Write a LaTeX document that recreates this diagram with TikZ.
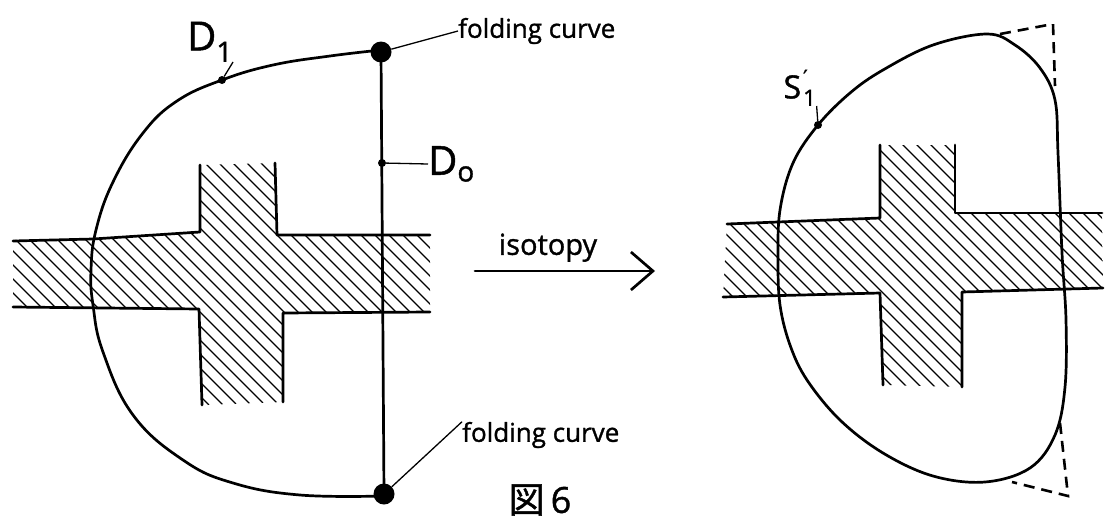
\documentclass[tikz,border=0pt]{standalone}
\usepackage{fontspec}
\setmainfont{Open Sans}[FakeBold=1.2]
\newfontfamily\cjk{Noto Sans CJK JP}[FakeBold=1.2]
\newfontfamily\djv{DejaVu Sans}[FakeBold=1.5]
\usetikzlibrary{arrows.meta}
\tikzset{
  stroke/.style={line width=2.7pt, line join=round, line cap=round},
  leader/.style={line width=1.3pt},
  hatchline/.style={line width=1.1pt},
  bigdot/.style={circle, fill, inner sep=0pt, minimum size=21pt},
  smalldot/.style={circle, fill, inner sep=0pt, minimum size=8pt},
  lbl/.style={font=\fontsize{26}{30}\selectfont, inner sep=0pt},
  biglbl/.style={font=\fontsize{40}{42}\selectfont, inner sep=0pt},
  dashline/.style={line width=2.6pt, dash pattern=on 11pt off 7pt},
}
\begin{document}
\begin{tikzpicture}[x=1pt,y=-1pt]
\useasboundingbox (0,0) rectangle (1115,522);
% ---------- left cross hatching ----------
\begin{scope}
\clip (13,240) -- (90,239) -- (200,231) -- (200,165) -- (275,163) -- (277,235) -- (430,235)
  -- (430,312) -- (283,313) -- (283,402) -- (202,405) -- (199,309) -- (13,307) -- cycle;
\foreach \c in {-406,-392,...,290}
  \draw[hatchline] ({\c+150},150) -- ({\c+420},420);
\end{scope}
\draw[stroke] (13,241) -- (93,239) -- (200,232) -- (200,165);
\draw[stroke] (275,163) -- (277,235) -- (430,235);
\draw[stroke] (13,307) -- (199,309) -- (202,405);
\draw[stroke] (283,402) -- (283,313) -- (430,312);
% ---------- left disk ----------
\node[bigdot] (ft) at (381,52) {};
\node[bigdot] (fb) at (384,494) {};
\node[smalldot] (d1) at (222,80) {};
\node[smalldot] (d0) at (382,163) {};
\draw[stroke] plot[smooth, tension=0.7] coordinates {(381,50) (330,56) (273,65) (222,80) (177,101) (143,133) (113,182) (96,230) (91,270) (93,305) (103,352) (133,415) (183,460) (233,483) (300,495) (384,496)};
\draw[stroke] (ft.center) -- (fb.center);
% labels left
\node[biglbl, anchor=south] (d1l) at (210,62) {D\textsubscript{1}};
\draw[leader] (d1) -- (d1l.south east);
\node[biglbl, anchor=west] (d0l) at (428,164) {D\textsubscript{o}};
\draw[leader] (d0) -- (d0l.west);
\node[lbl, anchor=west] (fcu) at (458,31) {folding curve};
\draw[leader] (ft) -- (fcu.west);
\node[lbl, anchor=west] (fcl) at (462,435) {folding curve};
\draw[leader] (fb) -- (fcl.north west);
% ---------- arrow ----------
\coordinate (as) at (475,271);
\coordinate (ae) at (655,271);
\draw[stroke, -{Straight Barb[length=22pt,width=38pt,line width=2.7pt]}] (as) -- (ae);
\node[lbl, anchor=south, font=\fontsize{29}{32}\selectfont] (iso) at (548,262) {isotopy};
% ---------- caption ----------
\node[inner sep=0pt, font=\fontsize{36}{40}\selectfont] (cap) at (540,500) {{\cjk 図}\,6};
% ---------- right cross hatching ----------
\begin{scope}
\clip (727,224) -- (880,218) -- (880,145) -- (955,145) -- (955,213) -- (1102,213) -- (1103,288)
  -- (962,292) -- (962,387) -- (883,385) -- (880,293) -- (723,297) -- cycle;
\foreach \c in {324,338,...,980}
  \draw[hatchline] ({\c+130},130) -- ({\c+400},400);
\end{scope}
\draw[stroke] (727,224) -- (880,218) -- (880,145);
\draw[stroke] (955,145) -- (955,213) -- (1102,213);
\draw[stroke] (723,297) -- (880,293) -- (883,385);
\draw[stroke] (962,387) -- (962,292) -- (1103,288);
% ---------- right disk ----------
\draw[stroke] plot[smooth cycle, tension=0.6] coordinates {(987,34) (933,45) (883,70) (850,93) (818,125) (793,163) (780,210) (778,260) (780,305) (790,345) (807,380) (840,420) (883,453) (933,476) (985,482) (1030,468) (1055,435) (1065,387) (1066,320) (1062,253) (1058,153) (1055,100) (1040,68) (1015,45)};
\node[smalldot] (s1) at (818,125) {};
\node[inner sep=0pt, anchor=south, font=\fontsize{32}{36}\selectfont] (s1l) at (800,106) {S\kern2pt\rlap{\raisebox{14pt}{\fontsize{20}{22}\djv ′}}\textsubscript{1}};
\draw[leader] (s1) -- (s1l.south east);
% dashed triangles
\coordinate (ua) at (1000,34);
\coordinate (uc) at (1053,24);
\coordinate (ub) at (1055,86);
\draw[dashline] (ua) -- (uc) -- (ub);
\coordinate (la) at (1060,423);
\coordinate (lc) at (1068,496);
\coordinate (lb) at (1012,482);
\draw[dashline] (la) -- (lc) -- (lb);
\end{tikzpicture}
\end{document}
